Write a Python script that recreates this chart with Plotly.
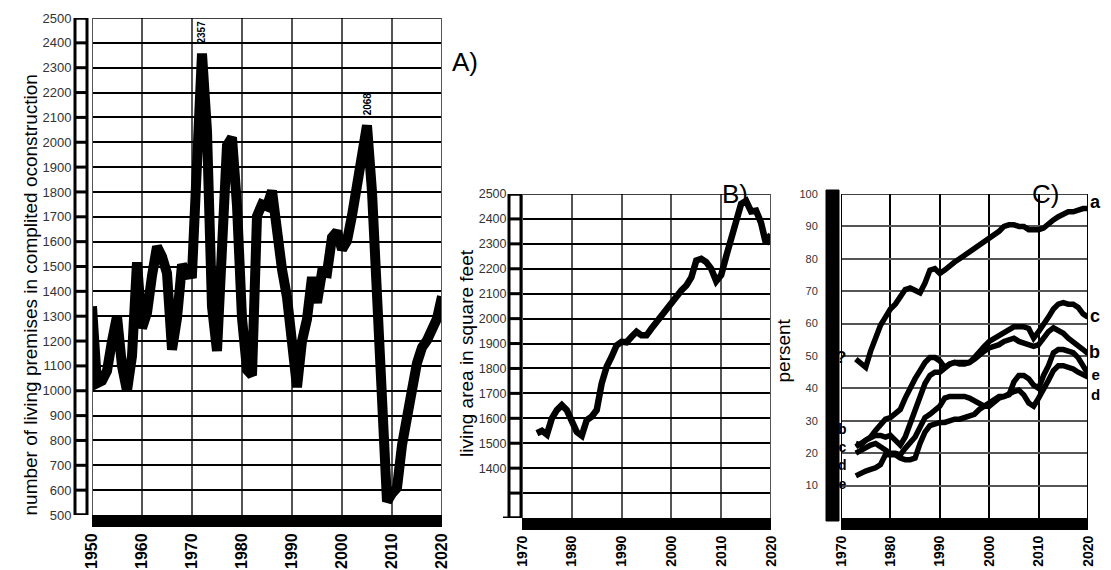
import plotly.graph_objects as go

# ---------------- data ----------------
years_A = list(range(1950, 2021))
starts_A = [1340, 1030, 1040, 1080, 1200, 1300, 1100, 1000, 1140,
            1517, 1252, 1313, 1463, 1580, 1540, 1473, 1165, 1292, 1508, 1467, 1470,
            2052, 2357, 2045, 1338, 1160, 1538, 1987, 2020, 1745, 1292,
            1084, 1062, 1703, 1750, 1742, 1805, 1621, 1488, 1376, 1193,
            1014, 1200, 1288, 1457, 1354, 1477, 1474, 1617, 1641, 1569,
            1603, 1705, 1848, 1956, 2068, 1801, 1355, 906, 554, 587,
            609, 781, 925, 1003, 1112, 1174, 1203, 1250, 1290, 1380]
peak_years_A = [1972, 2005]

years_B = list(range(1973, 2021))
area_B = [1540, 1550, 1535, 1600, 1633, 1653, 1633, 1580, 1545, 1530,
          1593, 1607, 1633, 1740, 1807, 1847, 1893, 1907, 1905, 1927,
          1947, 1933, 1933, 1960, 1987, 2007, 2033, 2060, 2093, 2113,
          2133, 2165, 2233, 2240, 2227, 2200, 2150, 2175, 2250, 2320,
          2400, 2460, 2472, 2430, 2433, 2385, 2300, 2338]

years_C = list(range(1973, 2021))
pct_a = [49, 47.5, 46.5, 51.5, 56, 59.5, 62, 64.5, 66, 68,
         70.5, 71, 70, 69.5, 72.5, 76.5, 77, 75.5, 76.5, 78,
         79, 80, 81, 82, 83, 84, 85, 86, 87, 88.5,
         90, 90.5, 90.5, 90, 90, 89, 89, 89, 89.5, 91,
         92, 93, 94, 94.5, 94.5, 95, 95.5, 95.5]
pct_b = [23, 22.5, 24, 25, 25.5, 25.5, 25, 25.5, 24, 22.5,
         25, 29, 34, 38, 41.5, 44, 45, 45, 46.5, 47.5,
         48, 47.5, 47.5, 48, 49, 50.5, 51.5, 52.5, 53, 53.5,
         54.5, 55, 55.5, 54.5, 54, 53.5, 53, 53.5, 55.5, 57.5,
         58.7, 58, 57, 55.5, 54.5, 53.5, 52, 50.7]
pct_c = [22, 23, 23.5, 25, 27, 29, 30.5, 31, 32, 33.5,
         37, 40.5, 43, 45.5, 48, 49.5, 49.5, 48.5, 46.5, 47.5,
         48, 48, 48, 48, 49.5, 51.5, 53, 54.5, 55.5, 56.5,
         57.5, 58, 59, 59, 59, 58.5, 55.5, 57.5, 59.5, 62,
         64.5, 66, 66.5, 66, 66, 65, 63, 62]
pct_d = [13, 14, 14.5, 15, 15.5, 16.5, 19.5, 19.5, 19.5, 18.5,
         18, 18, 18.5, 23, 26.5, 28.5, 29, 29.5, 29.5, 30,
         30.5, 30.5, 31, 31.5, 32, 33.5, 34.5, 35.5, 36.5, 37.5,
         37.5, 38.5, 39, 39.5, 38, 35.5, 34.5, 37, 39.5, 42.5,
         45.5, 47, 47, 46.5, 46, 45, 44, 43.5]
pct_e = [20, 21, 22, 22.5, 23, 22, 20.5, 20, 20, 19.5,
         21.5, 23.5, 25, 28, 31, 32, 33, 34.5, 37, 37.5,
         37.5, 37.5, 37.5, 37, 36, 35, 34.5, 34.5, 36, 37,
         37.5, 38, 42, 44, 44, 43, 41, 40, 44, 47,
         51, 52, 52, 51.5, 51, 49.5, 47, 44.5]
names_C = ["a", "b", "c", "d", "e"]
left_question = "?"
left_stack_C = ["b", "c", "d", "e"]
right_single_C = ["a", "c", "b"]
right_stack_C = ["e", "d"]

xticks_A = [1950, 1960, 1970, 1980, 1990, 2000, 2010, 2020]
yticks_A = list(range(500, 2501, 100))
xticks_BC = [1970, 1980, 1990, 2000, 2010, 2020]
yticks_B = list(range(1300, 2501, 100))
yticks_B_text = [""] + [str(v) for v in range(1400, 2501, 100)]
yticks_C = list(range(10, 101, 10))

panel_letters = ["A)", "B)", "C)"]
title_A = "number of living premises in complited oconstruction"
title_B = "living area in square feet"
title_C = "persent"

# ---------------- layout helpers ----------------
# the page body has an 8px margin, so the figure is drawn 8px in from the window corner
OFF = 8
W, H = 1111 - OFF, 570 - OFF
def px(x):
    return (x - OFF) / W
def py(y):
    return 1 - (y - OFF) / H

FONT = "Liberation Sans, Arial, sans-serif"
range_A_x, range_A_y = [1950, 2020], [500, 2500]
range_B_x, range_B_y = [1970, 2020], [1200, 2500]
range_C_x, range_C_y = [1970, 2020], [0, 100]

fig = go.Figure()
fig.add_trace(go.Scatter(x=years_A, y=starts_A, mode="lines",
                         line=dict(color="black", width=10),
                         xaxis="x", yaxis="y", showlegend=False))
fig.add_trace(go.Scatter(x=years_B, y=area_B, mode="lines",
                         line=dict(color="black", width=6.5),
                         xaxis="x2", yaxis="y2", showlegend=False))
for series in [pct_a, pct_b, pct_c, pct_d, pct_e]:
    fig.add_trace(go.Scatter(x=years_C, y=series, mode="lines",
                             line=dict(color="black", width=5.5),
                             xaxis="x3", yaxis="y3", showlegend=False))

def xaxis(domain, rng, vals, size, anchor):
    return dict(domain=domain, range=rng, tickvals=vals, ticktext=[str(v) for v in vals],
                tickangle=-90, showline=True, linewidth=12, linecolor="black",
                ticks="", showgrid=True, gridcolor="#555555", gridwidth=2,
                zeroline=False, fixedrange=True, automargin=False, anchor=anchor,
                tickfont=dict(family=FONT, size=size, color="black", weight="bold"))

def yaxis(domain, rng, vals, text, size, tlen, gridcolor, anchor):
    return dict(domain=domain, range=rng, tickvals=vals, ticktext=text,
                showline=False, ticks="outside", ticklen=tlen,
                tickcolor="rgba(0,0,0,0)", showgrid=True, gridcolor=gridcolor,
                gridwidth=1.5, zeroline=False, fixedrange=True, automargin=False,
                anchor=anchor,
                tickfont=dict(family=FONT, size=size, color="#333333"))

dom_A_y = [py(515), py(18)]
dom_BC_y = [py(518), py(194)]

xa3 = xaxis([px(841), px(1088)], range_C_x, xticks_BC, 14, "y3")
xa3["gridcolor"] = "black"

fig.update_layout(
    width=W, height=H, margin=dict(l=0, r=0, t=0, b=0, pad=0, autoexpand=False),
    paper_bgcolor="white", plot_bgcolor="white", showlegend=False,
    xaxis=xaxis([px(92), px(442)], range_A_x, xticks_A, 16, "y"),
    yaxis=yaxis(dom_A_y, range_A_y, yticks_A, [str(v) for v in yticks_A], 13, 17, "black", "x"),
    xaxis2=xaxis([px(522), px(771)], range_B_x, xticks_BC, 14, "y2"),
    yaxis2=yaxis(dom_BC_y, range_B_y, yticks_B, yticks_B_text, 12.5, 12, "black", "x2"),
    xaxis3=xa3,
    yaxis3=yaxis(dom_BC_y, range_C_y, yticks_C, [str(v) for v in yticks_C], 11, 20, "#555555", "x3"),
)

shapes = []
# ladder A
shapes.append(dict(type="rect", xref="paper", yref="y", x0=px(75), x1=px(87),
                   y0=range_A_y[0], y1=range_A_y[1], line=dict(color="black", width=3)))
for v in yticks_A:
    shapes.append(dict(type="line", xref="paper", yref="y", x0=px(75), x1=px(87),
                       y0=v, y1=v, line=dict(color="black", width=3)))
# ladder B
shapes.append(dict(type="rect", xref="paper", yref="y2", x0=px(509), x1=px(521),
                   y0=range_B_y[0], y1=range_B_y[1], line=dict(color="black", width=3)))
for v in yticks_B:
    shapes.append(dict(type="line", xref="paper", yref="y2", x0=px(509), x1=px(521),
                       y0=v, y1=v, line=dict(color="black", width=3)))
shapes.append(dict(type="line", xref="paper", yref="y2", x0=px(503), x1=px(521),
                   y0=range_B_y[0], y1=range_B_y[0], line=dict(color="black", width=3)))
# solid bar C
shapes.append(dict(type="rect", xref="paper", yref="paper", x0=px(826), x1=px(839),
                   y0=py(521), y1=py(190), fillcolor="black", line=dict(color="black", width=1)))
# frame lines
for xr, yr, rx, ry, vcol in [("x", "y", range_A_x, range_A_y, "#555555"),
                             ("x2", "y2", range_B_x, range_B_y, "#555555"),
                             ("x3", "y3", range_C_x, range_C_y, "black")]:
    shapes.append(dict(type="line", xref=xr, yref=yr, x0=rx[0], x1=rx[1], y0=ry[1], y1=ry[1],
                       line=dict(color="black", width=1.5)))
    for xv in rx:
        shapes.append(dict(type="line", xref=xr, yref=yr, x0=xv, x1=xv, y0=ry[0], y1=ry[1],
                           line=dict(color=vcol, width=2)))
fig.update_layout(shapes=shapes)

ann = []
# axis titles
ann.append(dict(text=title_A, x=px(17), y=py(295), xref="paper", yref="paper", textangle=-90,
                showarrow=False, font=dict(family=FONT, size=19, color="black")))
ann.append(dict(text=title_B, x=px(466), y=py(353), xref="paper", yref="paper", textangle=-90,
                showarrow=False, font=dict(family=FONT, size=19, color="black")))
ann.append(dict(text=title_C, x=px(795), y=py(351), xref="paper", yref="paper", textangle=-90,
                showarrow=False, font=dict(family=FONT, size=19, color="black")))
# panel letters
for letter, (lx, ly) in zip(panel_letters, [(465, 45), (750, 177), (1061, 177)]):
    ann.append(dict(text=letter, x=px(lx), y=py(ly), xref="paper", yref="paper",
                    showarrow=False, font=dict(family=FONT, size=26, color="black")))
# peak value labels
for yr in peak_years_A:
    val = starts_A[years_A.index(yr)]
    ann.append(dict(text=str(val), x=yr, y=val, xref="x", yref="y", textangle=-90,
                    yshift=21, showarrow=False,
                    font=dict(family=FONT, size=10, color="black", weight="bold")))
# series labels in C (right side)
for name, (lx, ly) in zip(right_single_C, [(1103, 190), (1102, 316), (1102, 352)]):
    ann.append(dict(text=name, x=px(lx), y=py(ly), xref="paper", yref="paper",
                    showarrow=False, font=dict(family=FONT, size=18, color="black", weight="bold")))
ann.append(dict(text="<br>".join(right_stack_C), x=px(1102), y=py(364), xref="paper", yref="paper",
                yanchor="top", showarrow=False,
                font=dict(family=FONT, size=15, color="black", weight="bold")))
# series labels in C (left side)
ann.append(dict(text=left_question, x=px(848), y=py(357), xref="paper", yref="paper",
                showarrow=False, font=dict(family=FONT, size=17, color="black", weight="bold")))
ann.append(dict(text="<br>".join(left_stack_C), x=px(849), y=py(419), xref="paper", yref="paper",
                yanchor="top", showarrow=False,
                font=dict(family=FONT, size=14, color="black", weight="bold")))
fig.update_layout(annotations=ann)

fig.write_html("out.html")
